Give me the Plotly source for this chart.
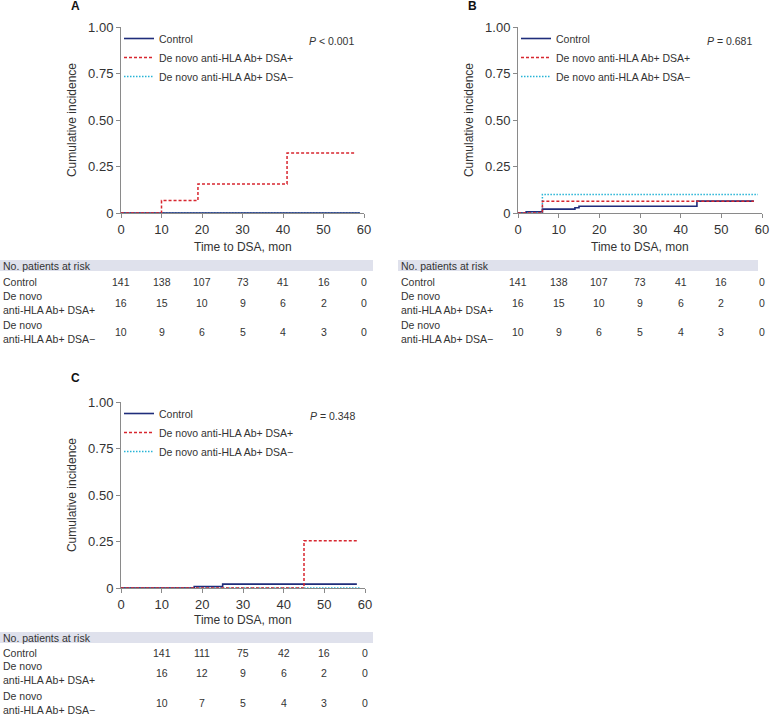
import plotly.graph_objects as go

W, H = 770, 718

# ---------------- data ----------------
series_names = ["Control", "De novo anti-HLA Ab+ DSA+", "De novo anti-HLA Ab+ DSA\u2212"]

# Panel A
a_ctrl_t = [0, 59]
a_ctrl_y = [0, 0]
a_pos_t = [0, 10, 19, 41, 58]
a_pos_y = [0, 0.067, 0.156, 0.322, 0.322]
a_neg_t = [0, 59]
a_neg_y = [0, 0]

# Panel B
b_ctrl_t = [0, 2, 6, 14, 15, 44, 58]
b_ctrl_y = [0, 0.007, 0.021, 0.028, 0.036, 0.064, 0.064]
b_pos_t = [0, 6, 58]
b_pos_y = [0, 0.0625, 0.0625]
b_neg_t = [0, 6, 59]
b_neg_y = [0, 0.1, 0.1]

# Panel C
c_ctrl_t = [0, 18, 25, 58]
c_ctrl_y = [0, 0.008, 0.021, 0.021]
c_pos_t = [0, 45, 58]
c_pos_y = [0, 0.254, 0.254]
c_neg_t = [0, 59]
c_neg_y = [0, 0]

p_values = ["<i>P</i> < 0.001", "<i>P</i> = 0.681", "<i>P</i> = 0.348"]
panel_labels = ["A", "B", "C"]

x_ticks = [0, 10, 20, 30, 40, 50, 60]
y_ticks = [0, 0.25, 0.5, 0.75, 1.0]
y_tick_text = ["0", "0.25", "0.50", "0.75", "1.00"]

risk_row_labels = ["Control", "De novo<br>anti-HLA Ab+ DSA+", "De novo<br>anti-HLA Ab+ DSA\u2212"]
a_risk_t = [0, 10, 20, 30, 40, 50, 60]
a_risk = [[141, 138, 107, 73, 41, 16, 0],
          [16, 15, 10, 9, 6, 2, 0],
          [10, 9, 6, 5, 4, 3, 0]]
b_risk_t = [0, 10, 20, 30, 40, 50, 60]
b_risk = [[141, 138, 107, 73, 41, 16, 0],
          [16, 15, 10, 9, 6, 2, 0],
          [10, 9, 6, 5, 4, 3, 0]]
c_risk_t = [10, 20, 30, 40, 50, 60]
c_risk = [[141, 111, 75, 42, 16, 0],
          [16, 12, 9, 6, 2, 0],
          [10, 7, 5, 4, 3, 0]]

# ---------------- styling ----------------
COL = ["#1f2d7b", "#d7262f", "#27b4d6"]
DASH = ["solid", "3px,2px", "1.5px,1.5px"]
FONT = "Liberation Sans, Arial, sans-serif"
TXT = "#333333"
AX = "#8a8a8a"
BAND = "#dfe1ec"


def px(x):
    return x / W


def py(y):
    return 1 - y / H


fig = go.Figure()

panels = [
    dict(x0=121, x1=364, yt=27, yb=213, xa="x", ya="y", leg="legend",
         data=[(a_ctrl_t, a_ctrl_y), (a_pos_t, a_pos_y), (a_neg_t, a_neg_y)],
         risk_t=a_risk_t, risk=a_risk, lab_x=1, band=(0, 373),
         title_y=247, band_y=(260, 271), rows_y=[282, 303, 332], letter=(75, 6)),
    dict(x0=518, x1=762, yt=27, yb=213, xa="x2", ya="y2", leg="legend2",
         data=[(b_ctrl_t, b_ctrl_y), (b_pos_t, b_pos_y), (b_neg_t, b_neg_y)],
         risk_t=b_risk_t, risk=b_risk, lab_x=399, band=(398, 758),
         title_y=247, band_y=(260, 271), rows_y=[282, 303, 332], letter=(472, 6)),
    dict(x0=121, x1=365, yt=402, yb=588, xa="x3", ya="y3", leg="legend3",
         data=[(c_ctrl_t, c_ctrl_y), (c_pos_t, c_pos_y), (c_neg_t, c_neg_y)],
         risk_t=c_risk_t, risk=c_risk, lab_x=1, band=(0, 373),
         title_y=620, band_y=(632, 643), rows_y=[653, 673, 703], letter=(75, 378)),
]

annotations = []
shapes = []
axis_layout = {}

for i, p in enumerate(panels):
    # drawing order: DSA- below, control, DSA+ on top; legend order fixed by rank
    for k in [2, 0, 1]:
        t, y = p["data"][k]
        fig.add_trace(go.Scatter(
            x=t, y=y, mode="lines", line_shape="hv",
            line=dict(color=COL[k], width=1.6 if k == 0 else 1.5, dash=DASH[k]),
            name=series_names[k], xaxis=p["xa"], yaxis=p["ya"],
            legend=p["leg"], legendrank=k + 1, showlegend=True,
            hoverinfo="skip"))

    sfx = "" if i == 0 else str(i + 1)
    axis_layout["xaxis" + sfx] = dict(
        domain=[px(p["x0"]), px(p["x1"])], range=[0, 60], anchor=p["ya"],
        tickvals=x_ticks, ticks="outside", ticklen=4, tickcolor=AX,
        showline=True, linecolor=AX, linewidth=1, showgrid=False, zeroline=False,
        automargin=False,
        tickfont=dict(family=FONT, size=13, color=TXT), fixedrange=True)
    axis_layout["yaxis" + sfx] = dict(
        domain=[py(p["yb"]), py(p["yt"])], range=[0, 1], anchor=p["xa"],
        tickvals=y_ticks, ticktext=y_tick_text, ticks="outside", ticklen=4,
        tickcolor=AX, showline=True, linecolor=AX, linewidth=1, showgrid=False,
        zeroline=False, automargin=False,
        tickfont=dict(family=FONT, size=13, color=TXT),
        title=dict(text="Cumulative incidence", standoff=8,
                   font=dict(family=FONT, size=12, color=TXT)),
        fixedrange=True)

    fig.update_layout(**{p["leg"]: dict(
        x=px(p["x0"] - 2), y=py(p["yt"] - 3), xanchor="left", yanchor="top",
        bgcolor="rgba(0,0,0,0)", font=dict(family=FONT, size=10.5, color=TXT),
        itemwidth=30, tracegroupgap=0, traceorder="normal")})

    annotations.append(dict(
        x=px(p["x1"] - 8), y=py(p["yt"] + 14), xref="paper", yref="paper",
        text=p_values[i], showarrow=False, xanchor="right", yanchor="middle",
        font=dict(family=FONT, size=10.5, color=TXT)))

    annotations.append(dict(
        x=px(p["letter"][0]), y=py(p["letter"][1]), xref="paper", yref="paper",
        text="<b>" + panel_labels[i] + "</b>", showarrow=False,
        xanchor="center", yanchor="middle",
        font=dict(family=FONT, size=12, color="#111111")))

    annotations.append(dict(
        x=px((p["x0"] + p["x1"]) / 2), y=py(p["title_y"]), xref="paper",
        yref="paper", text="Time to DSA, mon", showarrow=False,
        xanchor="center", yanchor="middle",
        font=dict(family=FONT, size=12, color=TXT)))

    shapes.append(dict(
        type="rect", xref="paper", yref="paper",
        x0=px(p["band"][0]), x1=px(p["band"][1]),
        y0=py(p["band_y"][1]), y1=py(p["band_y"][0]),
        fillcolor=BAND, line=dict(width=0), layer="below"))
    annotations.append(dict(
        x=px(p["lab_x"]), y=py((p["band_y"][0] + p["band_y"][1]) / 2),
        xref="paper", yref="paper", text="No. patients at risk",
        showarrow=False, xanchor="left", yanchor="middle",
        font=dict(family=FONT, size=10.5, color=TXT)))

    for r in range(3):
        annotations.append(dict(
            x=px(p["lab_x"]), y=py(p["rows_y"][r]), xref="paper", yref="paper",
            text=risk_row_labels[r], showarrow=False, xanchor="left",
            yanchor="middle", align="left",
            font=dict(family=FONT, size=10.5, color=TXT)))
        for t, v in zip(p["risk_t"], p["risk"][r]):
            annotations.append(dict(
                x=t, y=py(p["rows_y"][r]), xref=p["xa"], yref="paper",
                text=str(v), showarrow=False, xanchor="center",
                yanchor="middle",
                font=dict(family=FONT, size=10.5, color=TXT)))

fig.update_layout(
    width=W, height=H, margin=dict(l=0, r=0, t=0, b=0, autoexpand=False),
    paper_bgcolor="white", plot_bgcolor="white",
    annotations=annotations, shapes=shapes, **axis_layout)

fig.write_html(
    "out.html",
    config={"displayModeBar": False},
    post_script="document.body.style.margin='0';document.body.style.overflow='hidden';")
